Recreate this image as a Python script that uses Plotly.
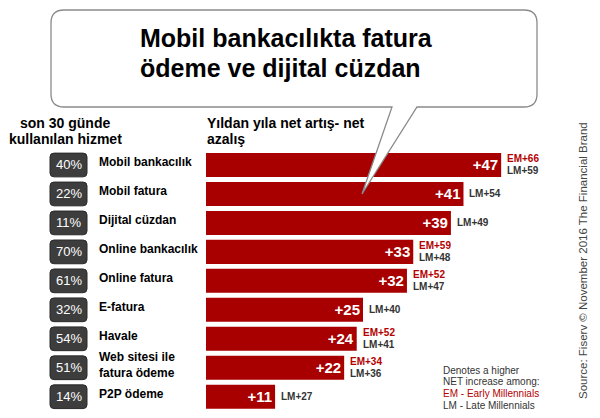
import plotly.graph_objects as go

# ---------------- data ----------------
services = ["Mobil bankacılık", "Mobil fatura", "Dijital cüzdan", "Online bankacılık",
            "Online fatura", "E-fatura", "Havale", "Web sitesi ile<br>fatura ödeme", "P2P ödeme"]
usage_pct = [40, 22, 11, 70, 61, 32, 54, 51, 14]
net_change = [47, 41, 39, 33, 32, 25, 24, 22, 11]
em_change = [66, None, None, 59, 52, None, 52, 34, None]
lm_change = [59, 54, 49, 48, 47, 40, 41, 36, 27]

title_lines = ["Mobil bankacılıkta fatura", "ödeme ve dijital cüzdan"]
left_header = ["son 30 günde", "kullanılan hizmet"]
right_header = ["Yıldan yıla net artış- net", "azalış"]
note_lines = ["Denotes a higher", "NET increase among:", "EM - Early Millennials", "LM - Late Millennials"]
source_text = "Source: Fiserv © November 2016 The Financial Brand"

# ---------------- style ----------------
W, H = 600, 418
FONT = "Liberation Sans, Arial, sans-serif"
BAR = "#a80000"
EMC = "#b40000"
DARK = "#333333"


def px(x):
    return x / W


def py(y):
    return 1 - y / H


cats = [f"c{i}" for i in range(len(services))]

fig = go.Figure()
fig.add_trace(go.Bar(
    x=net_change, y=cats, orientation="h",
    marker=dict(color=BAR, line=dict(width=0)),
    text=[f"+{v}" for v in net_change],
    textposition="inside", insidetextanchor="end",
    textfont=dict(family=FONT, size=15, color="white", weight="bold"),
    constraintext="none", hoverinfo="skip",
))

ann = []
shapes = []

# EM / LM labels
for c, v, em, lm in zip(cats, net_change, em_change, lm_change):
    if em is not None:
        ann.append(dict(x=v, y=c, xref="x", yref="y", xanchor="left", yanchor="middle",
                        xshift=4, yshift=6, text=f"EM+{em}", showarrow=False,
                        font=dict(family=FONT, size=10, color=EMC, weight="bold")))
        ann.append(dict(x=v, y=c, xref="x", yref="y", xanchor="left", yanchor="middle",
                        xshift=4, yshift=-6, text=f"LM+{lm}", showarrow=False,
                        font=dict(family=FONT, size=10, color=DARK, weight="bold")))
    else:
        ann.append(dict(x=v, y=c, xref="x", yref="y", xanchor="left", yanchor="middle",
                        xshift=4, text=f"LM+{lm}", showarrow=False,
                        font=dict(family=FONT, size=10, color=DARK, weight="bold")))

# service names and percentage boxes
bx0, bx1 = px(50), px(87)
rx = px(4)
hh = 0.41
ry = 0.13
for i, (c, s, p) in enumerate(zip(cats, services, usage_pct)):
    ann.append(dict(x=px(97), y=c, xref="paper", yref="y", xanchor="left", yanchor="middle",
                    yshift=3, text=s, showarrow=False, align="left",
                    font=dict(family=FONT, size=12, color="black", weight="bold")))
    y0, y1 = i - hh, i + hh
    path = (f"M{bx0 + rx},{y0} L{bx1 - rx},{y0} Q{bx1},{y0} {bx1},{y0 + ry} "
            f"L{bx1},{y1 - ry} Q{bx1},{y1} {bx1 - rx},{y1} L{bx0 + rx},{y1} "
            f"Q{bx0},{y1} {bx0},{y1 - ry} L{bx0},{y0 + ry} Q{bx0},{y0} {bx0 + rx},{y0} Z")
    shapes.append(dict(type="path", path=path, xref="paper", yref="y",
                       fillcolor="#3d3d3d", line=dict(color="#2a2a2a", width=1)))
    ann.append(dict(x=(bx0 + bx1) / 2, y=c, xref="paper", yref="y", xanchor="center",
                    yanchor="middle", text=f"{p}%", showarrow=False,
                    font=dict(family=FONT, size=13, color="white")))

# speech bubble
L, R, T, B, r = 51, 537, 10, 107, 13
tail = [(417, 107), (362, 194), (392, 107)]
bubble = (f"M{px(L + r)},{py(T)} L{px(R - r)},{py(T)} Q{px(R)},{py(T)} {px(R)},{py(T + r)} "
          f"L{px(R)},{py(B - r)} Q{px(R)},{py(B)} {px(R - r)},{py(B)} "
          f"L{px(tail[0][0])},{py(tail[0][1])} L{px(tail[1][0])},{py(tail[1][1])} "
          f"L{px(tail[2][0])},{py(tail[2][1])} "
          f"L{px(L + r)},{py(B)} Q{px(L)},{py(B)} {px(L)},{py(B - r)} "
          f"L{px(L)},{py(T + r)} Q{px(L)},{py(T)} {px(L + r)},{py(T)} Z")
shapes.append(dict(type="path", path=bubble, xref="paper", yref="paper",
                   fillcolor="white", line=dict(color="#8a8a8a", width=1.3), layer="above"))

for t, yy in zip(title_lines, [38.5, 68]):
    ann.append(dict(x=px(138), y=py(yy), xref="paper", yref="paper", xanchor="left",
                    yanchor="middle", text=t, showarrow=False,
                    font=dict(family=FONT, size=25, color="black", weight="bold")))

for t, yy in zip(left_header, [122.5, 138.5]):
    ann.append(dict(x=px(65), y=py(yy), xref="paper", yref="paper", xanchor="center",
                    yanchor="middle", text=t, showarrow=False,
                    font=dict(family=FONT, size=14, color="black", weight="bold")))
for t, yy in zip(right_header, [122.5, 138.5]):
    ann.append(dict(x=px(205), y=py(yy), xref="paper", yref="paper", xanchor="left",
                    yanchor="middle", text=t, showarrow=False,
                    font=dict(family=FONT, size=14, color="black", weight="bold")))

note_colors = [DARK, DARK, EMC, DARK]
for t, yy, col in zip(note_lines, [370, 381.7, 393.3, 405], note_colors):
    ann.append(dict(x=px(441), y=py(yy), xref="paper", yref="paper", xanchor="left",
                    yanchor="middle", text=t, showarrow=False,
                    font=dict(family=FONT, size=10, color=col)))

ann.append(dict(x=px(583), y=py(261), xref="paper", yref="paper", xanchor="center",
                yanchor="middle", text=source_text, textangle=-90, showarrow=False,
                font=dict(family=FONT, size=11.5, color="#444444")))

fig.update_layout(
    width=W, height=H, margin=dict(l=0, r=0, t=0, b=0),
    paper_bgcolor="white", plot_bgcolor="white",
    showlegend=False, bargap=0.17,
    xaxis=dict(domain=[px(206), 1], range=[0, (W - 206) / 6.28], visible=False, fixedrange=True),
    yaxis=dict(domain=[py(411.2), py(150.5)], type="category", categoryorder="array",
               categoryarray=cats, range=[len(cats) - 0.5, -0.5], visible=False, fixedrange=True),
    annotations=ann, shapes=shapes,
)

fig.write_html(
    "out.html",
    config={"displayModeBar": False},
    post_script="document.body.style.margin='0';document.body.style.overflow='hidden';",
)
